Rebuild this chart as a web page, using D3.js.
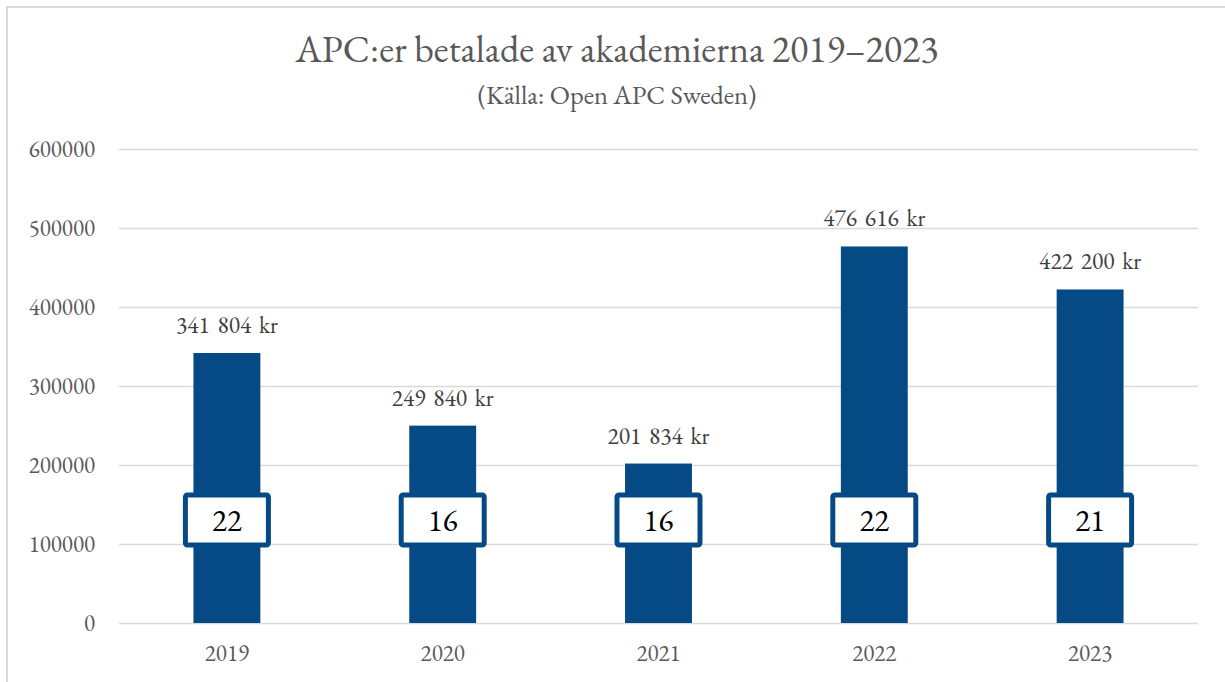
<!DOCTYPE html>
<html>
<head>
<meta charset="utf-8">
<script src="https://cdn.jsdelivr.net/npm/d3@7"></script>
<style>
  html, body { margin: 0; padding: 0; background: #fff; }
</style>
</head>
<body>
<svg id="chart" width="1225" height="682"></svg>
<script>
const years = ["2019", "2020", "2021", "2022", "2023"];
const amounts = [341804, 249840, 201834, 476616, 422200];
const counts = [22, 16, 16, 22, 21];
const yTicks = [0, 100000, 200000, 300000, 400000, 500000, 600000];
const titleText = "APC:er betalade av akademierna 2019–2023";
const subtitleText = "(Källa: Open APC Sweden)";

const FONT = '"EB Garamond", "Liberation Serif", serif';
const W = 1225, H = 682;
const margin = { left: 119, right: 27, top: 149, bottom: 59 };
const svg = d3.select("#chart");
const blue = "#054a85";
const grey = "#595959";
const gridColor = "#d9d9d9";

// outer frame
svg.append("rect")
  .attr("x", 7).attr("y", 7)
  .attr("width", W + 20).attr("height", H + 20)
  .attr("fill", "#fff").attr("stroke", gridColor).attr("stroke-width", 2);

const x = d3.scaleBand().domain(years)
  .range([margin.left, W - margin.right])
  .paddingInner(0.69).paddingOuter(0.345);
const y = d3.scaleLinear().domain([0, 600000])
  .range([H - margin.bottom, margin.top]);

// gridlines + y labels
const yAxis = d3.axisLeft(y).tickValues(yTicks)
  .tickSize(-(W - margin.right - margin.left))
  .tickFormat(d3.format("d"))
  .tickPadding(24);
const gy = svg.append("g")
  .attr("transform", `translate(${margin.left},0)`)
  .call(yAxis);
gy.select(".domain").remove();
gy.selectAll(".tick line").attr("stroke", gridColor).attr("stroke-width", 1.5);
gy.selectAll(".tick text")
  .attr("fill", grey)
  .style("font-family", FONT).style("font-size", "23px");

// x axis labels
const xAxis = d3.axisBottom(x).tickSize(0).tickPadding(22);
const gx = svg.append("g")
  .attr("transform", `translate(0,${H - margin.bottom})`)
  .call(xAxis);
gx.select(".domain").remove();
gx.selectAll(".tick text")
  .attr("fill", grey)
  .style("font-family", FONT).style("font-size", "23px");

// bars
svg.append("g").selectAll("rect")
  .data(years)
  .join("rect")
  .attr("x", d => x(d))
  .attr("width", x.bandwidth())
  .attr("y", (d, i) => y(amounts[i]))
  .attr("height", (d, i) => y(0) - y(amounts[i]))
  .attr("fill", blue);

// amount labels
const fmt = v => d3.format(",")(v).replace(/,/g, " ") + " kr";
svg.append("g").selectAll("text")
  .data(years)
  .join("text")
  .attr("x", d => x(d) + x.bandwidth() / 2)
  .attr("y", (d, i) => y(amounts[i]) - 20)
  .attr("text-anchor", "middle")
  .attr("fill", "#404040")
  .style("font-family", FONT).style("font-size", "23.5px")
  .style("word-spacing", "3px")
  .text((d, i) => fmt(amounts[i]));

// count boxes
const boxW = 83, boxH = 50, boxCY = 520;
const gb = svg.append("g");
gb.selectAll("rect")
  .data(years)
  .join("rect")
  .attr("x", d => x(d) + x.bandwidth() / 2 - boxW / 2)
  .attr("y", boxCY - boxH / 2)
  .attr("width", boxW).attr("height", boxH)
  .attr("rx", 2)
  .attr("fill", "#fff")
  .attr("stroke", blue).attr("stroke-width", 5);
gb.selectAll("text")
  .data(years)
  .join("text")
  .attr("x", d => x(d) + x.bandwidth() / 2)
  .attr("y", boxCY + 11)
  .attr("text-anchor", "middle")
  .attr("fill", "#000")
  .style("font-family", FONT).style("font-size", "31px")
  .text((d, i) => counts[i]);

// titles
svg.append("text")
  .attr("x", 617).attr("y", 62)
  .attr("text-anchor", "middle")
  .attr("fill", grey)
  .style("font-family", FONT).style("font-size", "38px")
  .text(titleText);
svg.append("text")
  .attr("x", 617).attr("y", 104)
  .attr("text-anchor", "middle")
  .attr("fill", grey)
  .style("font-family", FONT).style("font-size", "26.5px")
  .text(subtitleText);
</script>
</body>
</html>
